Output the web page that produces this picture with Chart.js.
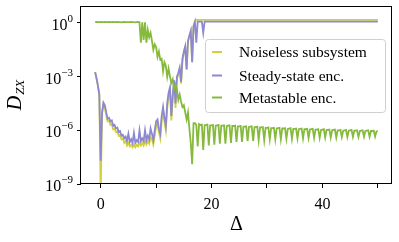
<!DOCTYPE html>
<html>
<head>
<meta charset="utf-8">
<script src="https://cdn.jsdelivr.net/npm/chart.js@4/dist/chart.umd.min.js"></script>
<style>
  html, body { margin: 0; padding: 0; background: #fff; }
  #wrap { width: 399px; height: 242px; position: relative; }
</style>
</head>
<body>
<div id="wrap"><canvas id="dzxChart"></canvas></div>
<script>
// Sampling grid in Delta, step 0.25 from -1 to 50
const delta = Array.from({ length: 205 }, (_, i) => -1 + i * 0.25);

// log10(D_ZX), one value per Delta sample
const noiselessLog = [
  -2.75,-3.1,-3.5,-4.0, -9.6,-5.1,-4.55,-4.75, -5.15,-5.5,-5.45,-5.7, -5.65,-5.95,-5.9,-6.1,
  -6.05,-6.3,-6.25,-6.5, -6.45,-6.7,-6.6,-6.85, -6.7,-6.9,-6.8,-6.95, -6.8,-6.95,-6.8,-6.9,
  -6.7,-6.85,-6.7,-6.85, -6.6,-6.8,-6.6,-6.75, -6.4,-6.5,-6.8,-6.3, -5.8,-5.6,-6.1,-6.45,
  -5.5,-4.9,-5.5,-6.0, -4.8,-4.1,-3.8,-5.45, -4.2,-3.35,-4.75,-3.15, -2.9,-2.6,-3.4,-2.1,
  -1.7,-1.4,-2.6,-1.05, -0.75,-0.45,-2.2,-0.15, 0.1,0.17,0.17,0.17, 0.17,0.17,0.17,0.17,
  0.17,0.17,0.17,0.17,0.17,0.17,0.17,0.17,0.17,0.17,0.17,0.17,0.17,0.17,0.17,0.17,0.17,0.17,0.17,0.17,
  0.17,0.17,0.17,0.17,0.17,0.17,0.17,0.17,0.17,0.17,0.17,0.17,0.17,0.17,0.17,0.17,0.17,0.17,0.17,0.17,
  0.17,0.17,0.17,0.17,0.17,0.17,0.17,0.17,0.17,0.17,0.17,0.17,0.17,0.17,0.17,0.17,0.17,0.17,0.17,0.17,
  0.17,0.17,0.17,0.17,0.17,0.17,0.17,0.17,0.17,0.17,0.17,0.17,0.17,0.17,0.17,0.17,0.17,0.17,0.17,0.17,
  0.17,0.17,0.17,0.17,0.17,0.17,0.17,0.17,0.17,0.17,0.17,0.17,0.17,0.17,0.17,0.17,0.17,0.17,0.17,0.17,
  0.17,0.17,0.17,0.17,0.17,0.17,0.17,0.17,0.17,0.17,0.17,0.17,0.17,0.17,0.17,0.17,0.17,0.17,0.17,0.17,
  0.17,0.17,0.17,0.17,0.17
];

const steadyLog = [
  -2.75,-3.1,-3.5,-4.0, -7.7,-5.0,-4.45,-4.6, -5.0,-5.35,-5.3,-5.5, -5.45,-5.75,-5.7,-5.9,
  -5.85,-6.1,-6.05,-6.3, -6.25,-6.45,-6.35,-6.6, -6.2,-6.65,-6.5,-6.7, -6.15,-6.7,-6.55,-6.65,
  -6.0,-6.6,-6.45,-6.6, -6.0,-6.55,-6.3,-6.5, -5.9,-6.2,-6.55,-6.0, -5.5,-5.4,-5.9,-6.2,
  -5.2,-4.7,-5.3,-5.75, -4.5,-3.9,-3.6,-5.2, -4.0,-3.2,-4.5,-3.0, -2.8,-2.5,-3.3,-2.0,
  -1.6,-1.3,-2.6,-1.0, -0.7,-0.45,-2.2,-0.2, 0.05,-1.1,0.07,0.07, 0.07,0.07,-0.55,0.07,
  0.07,0.07,0.07,0.07,0.07,0.07,0.07,0.07,0.07,0.07,0.07,0.07,0.07,0.07,0.07,0.07,0.07,0.07,0.07,0.07,
  0.07,0.07,0.07,0.07,0.07,0.07,0.07,0.07,0.07,0.07,0.07,0.07,0.07,0.07,0.07,0.07,0.07,0.07,0.07,0.07,
  0.07,0.07,0.07,0.07,0.07,0.07,0.07,0.07,0.07,0.07,0.07,0.07,0.07,0.07,0.07,0.07,0.07,0.07,0.07,0.07,
  0.07,0.07,0.07,0.07,0.07,0.07,0.07,0.07,0.07,0.07,0.07,0.07,0.07,0.07,0.07,0.07,0.07,0.07,0.07,0.07,
  0.07,0.07,0.07,0.07,0.07,0.07,0.07,0.07,0.07,0.07,0.07,0.07,0.07,0.07,0.07,0.07,0.07,0.07,0.07,0.07,
  0.07,0.07,0.07,0.07,0.07,0.07,0.07,0.07,0.07,0.07,0.07,0.07,0.07,0.07,0.07,0.07,0.07,0.07,0.07,0.07,
  0.07,0.07,0.07,0.07,0.07
];

const metastableLog = [
  0.04,0.05,0.04,0.04, 0.05,0.04,0.04,0.05, 0.04,0.04,0.05,0.04, 0.04,0.05,0.04,0.04,
  0.05,0.04,0.04,0.03, 0.04,0.05,0.04,0.04, 0.04,0.04,0.05,0.04, 0.04,0.03,0.04,0.05,
  0.04,-1.1,0.03,-0.95, 0.03,-1.1,-0.4,-0.8, -0.55,-1.0,-1.5,-1.2, -1.35,-1.9,-1.6,-2.05,
  -2.0,-2.7,-2.2,-2.4, -3.0,-2.55,-3.0,-3.35, -3.15,-3.7,-3.45,-3.7, -4.3,-4.0,-4.4,-4.7,
  -4.6,-5.0,-5.4,-5.0, -5.9,-6.7,-7.9,-5.6, -5.6,-5.7,-6.9,-5.65, -5.7,-5.68,-7.1,-5.72,
  -5.7,-5.68,-6.85,-5.72, -5.72,-5.7,-6.8,-5.74, -5.72,-5.7,-6.75,-5.74, -5.74,-5.72,-6.75,-5.76,
  -5.74,-5.72,-6.7,-5.76, -5.76,-5.74,-6.65,-5.78, -5.78,-5.76,-6.65,-5.8, -5.8,-5.78,-6.6,-5.82,
  -5.8,-5.78,-6.6,-5.82, -5.82,-5.8,-6.55,-5.84, -5.84,-5.82,-6.55,-5.86, -5.86,-5.84,-6.5,-5.88,
  -5.88,-5.86,-6.5,-5.9, -5.88,-5.86,-6.5,-5.9, -5.9,-5.88,-6.47,-5.92, -5.9,-5.88,-6.47,-5.92,
  -5.92,-5.9,-6.45,-5.94, -5.92,-5.9,-6.45,-5.94, -5.94,-5.92,-6.43,-5.96, -5.94,-5.92,-6.42,-5.96,
  -5.96,-5.94,-6.42,-5.98, -5.96,-5.94,-6.4,-5.98, -5.98,-5.96,-6.4,-6.0, -5.98,-5.96,-6.4,-6.0,
  -6.0,-5.98,-6.38,-6.02, -6.0,-5.98,-6.38,-6.02, -6.0,-5.98,-6.37,-6.02, -6.02,-6.0,-6.37,-6.04,
  -6.02,-6.0,-6.36,-6.04, -6.02,-6.0,-6.36,-6.04, -6.04,-6.02,-6.35,-6.06, -6.04
];

const seriesLabels = ['Noiseless subsystem', 'Steady-state enc.', 'Metastable enc.'];
const seriesColors = ['#d2d03c', '#8c88d2', '#85ba3c'];

const xTicks = [0, 10, 20, 30, 40, 50];
const yTickExponents = [0, -3, -6, -9];

const serif = "'Liberation Serif', 'DejaVu Serif', serif";

function toPoints(logs) {
    return delta.map((d, i) => ({ x: d, y: Math.pow(10, logs[i]) }));
}

// Frame, y tick labels with exponents, axis titles and the legend box
const decorations = {
    id: 'decorations',
    afterDatasetsDraw(chart) {
        const ctx = chart.ctx;
        const a = chart.chartArea;
        const yScale = chart.scales.y;
        ctx.save();

        ctx.strokeStyle = '#000';
        ctx.lineWidth = 1;
        ctx.strokeRect(Math.round(a.left) - 0.5, Math.round(a.top) + 0.5,
            Math.round(a.right - a.left), Math.round(a.bottom - a.top) - 1);

        // y tick labels: 10 with superscript exponent
        ctx.fillStyle = '#000';
        ctx.textBaseline = 'alphabetic';
        yTickExponents.forEach(function(e) {
            const y = yScale.getPixelForValue(Math.pow(10, e));
            const expText = e < 0 ? '\u2212' + (-e) : String(e);
            ctx.font = '11px ' + serif;
            const expW = ctx.measureText(expText).width;
            const right = a.left - 8;
            ctx.textAlign = 'left';
            ctx.fillText(expText, right - expW, y - 1);
            ctx.font = '16px ' + serif;
            ctx.textAlign = 'right';
            ctx.fillText('10', right - expW, y + 7);
        });

        // y title D_ZX, rotated
        ctx.save();
        ctx.translate(20.5, (a.top + a.bottom) / 2);
        ctx.rotate(-Math.PI / 2);
        ctx.font = 'italic 20px ' + serif;
        const dW = ctx.measureText('D').width;
        ctx.font = 'italic 13px ' + serif;
        const subW = ctx.measureText('ZX').width;
        const start = -(dW + subW + 1) / 2;
        ctx.textAlign = 'left';
        ctx.font = 'italic 20px ' + serif;
        ctx.fillText('D', start, 0);
        ctx.font = 'italic 13px ' + serif;
        ctx.fillText('ZX', start + dW + 1, 3);
        ctx.restore();

        // x title
        ctx.font = '20px ' + serif;
        ctx.textAlign = 'center';
        ctx.fillText('\u0394', (a.left + a.right) / 2, 230);

        // legend
        const lx = 205.5, ly = 39.5, lw = 180, lh = 73;
        ctx.beginPath();
        ctx.roundRect(lx, ly, lw, lh, 3);
        ctx.fillStyle = 'rgba(255,255,255,0.8)';
        ctx.fill();
        ctx.strokeStyle = '#cfcfcf';
        ctx.lineWidth = 1;
        ctx.stroke();

        const rows = [52, 75.5, 97.5];
        chart.data.datasets.forEach(function(ds, i) {
            ctx.strokeStyle = ds.borderColor;
            ctx.lineWidth = 2;
            ctx.beginPath();
            ctx.moveTo(212, rows[i]);
            ctx.lineTo(222, rows[i]);
            ctx.stroke();
            ctx.fillStyle = '#000';
            ctx.font = '15.5px ' + serif;
            ctx.textAlign = 'left';
            ctx.textBaseline = 'middle';
            ctx.fillText(ds.label, 239, rows[i] + 1);
        });

        ctx.restore();
    }
};

document.addEventListener('DOMContentLoaded', function() {
    const ctx = document.getElementById('dzxChart').getContext('2d');

    new Chart(ctx, {
        type: 'line',
        data: {
            datasets: [
                { label: seriesLabels[0], data: toPoints(noiselessLog), borderColor: seriesColors[0], order: 3 },
                { label: seriesLabels[1], data: toPoints(steadyLog), borderColor: seriesColors[1], order: 2 },
                { label: seriesLabels[2], data: toPoints(metastableLog), borderColor: seriesColors[2], order: 1 }
            ]
        },
        options: {
            responsive: true,
            maintainAspectRatio: false,
            animation: false,
            layout: { padding: { left: 0, top: 6, right: 7, bottom: 0 } },
            elements: {
                point: { radius: 0 },
                line: { borderWidth: 1.8, tension: 0, fill: false }
            },
            scales: {
                x: {
                    type: 'linear',
                    min: -3.55,
                    max: 52.55,
                    afterBuildTicks: function(scale) {
                        scale.ticks = xTicks.map(v => ({ value: v }));
                    },
                    afterFit: function(scale) { scale.height = 58; },
                    border: { display: false },
                    grid: { drawOnChartArea: false, drawTicks: true, tickLength: 4, color: '#000' },
                    ticks: {
                        autoSkip: false,
                        maxRotation: 0,
                        padding: 7,
                        color: '#000',
                        font: { family: serif, size: 16 },
                        callback: function(v) { return v % 20 === 0 ? String(v) : ''; }
                    }
                },
                y: {
                    type: 'logarithmic',
                    min: 1e-9,
                    max: Math.pow(10, 0.944),
                    afterBuildTicks: function(scale) {
                        scale.ticks = yTickExponents.map(e => ({ value: Math.pow(10, e) }));
                    },
                    afterFit: function(scale) { scale.width = 81; },
                    border: { display: false },
                    grid: { drawOnChartArea: false, drawTicks: true, tickLength: 4, color: '#000' },
                    ticks: { display: false }
                }
            },
            plugins: {
                legend: { display: false },
                tooltip: { enabled: false }
            }
        },
        plugins: [decorations]
    });
});
</script>
</body>
</html>
